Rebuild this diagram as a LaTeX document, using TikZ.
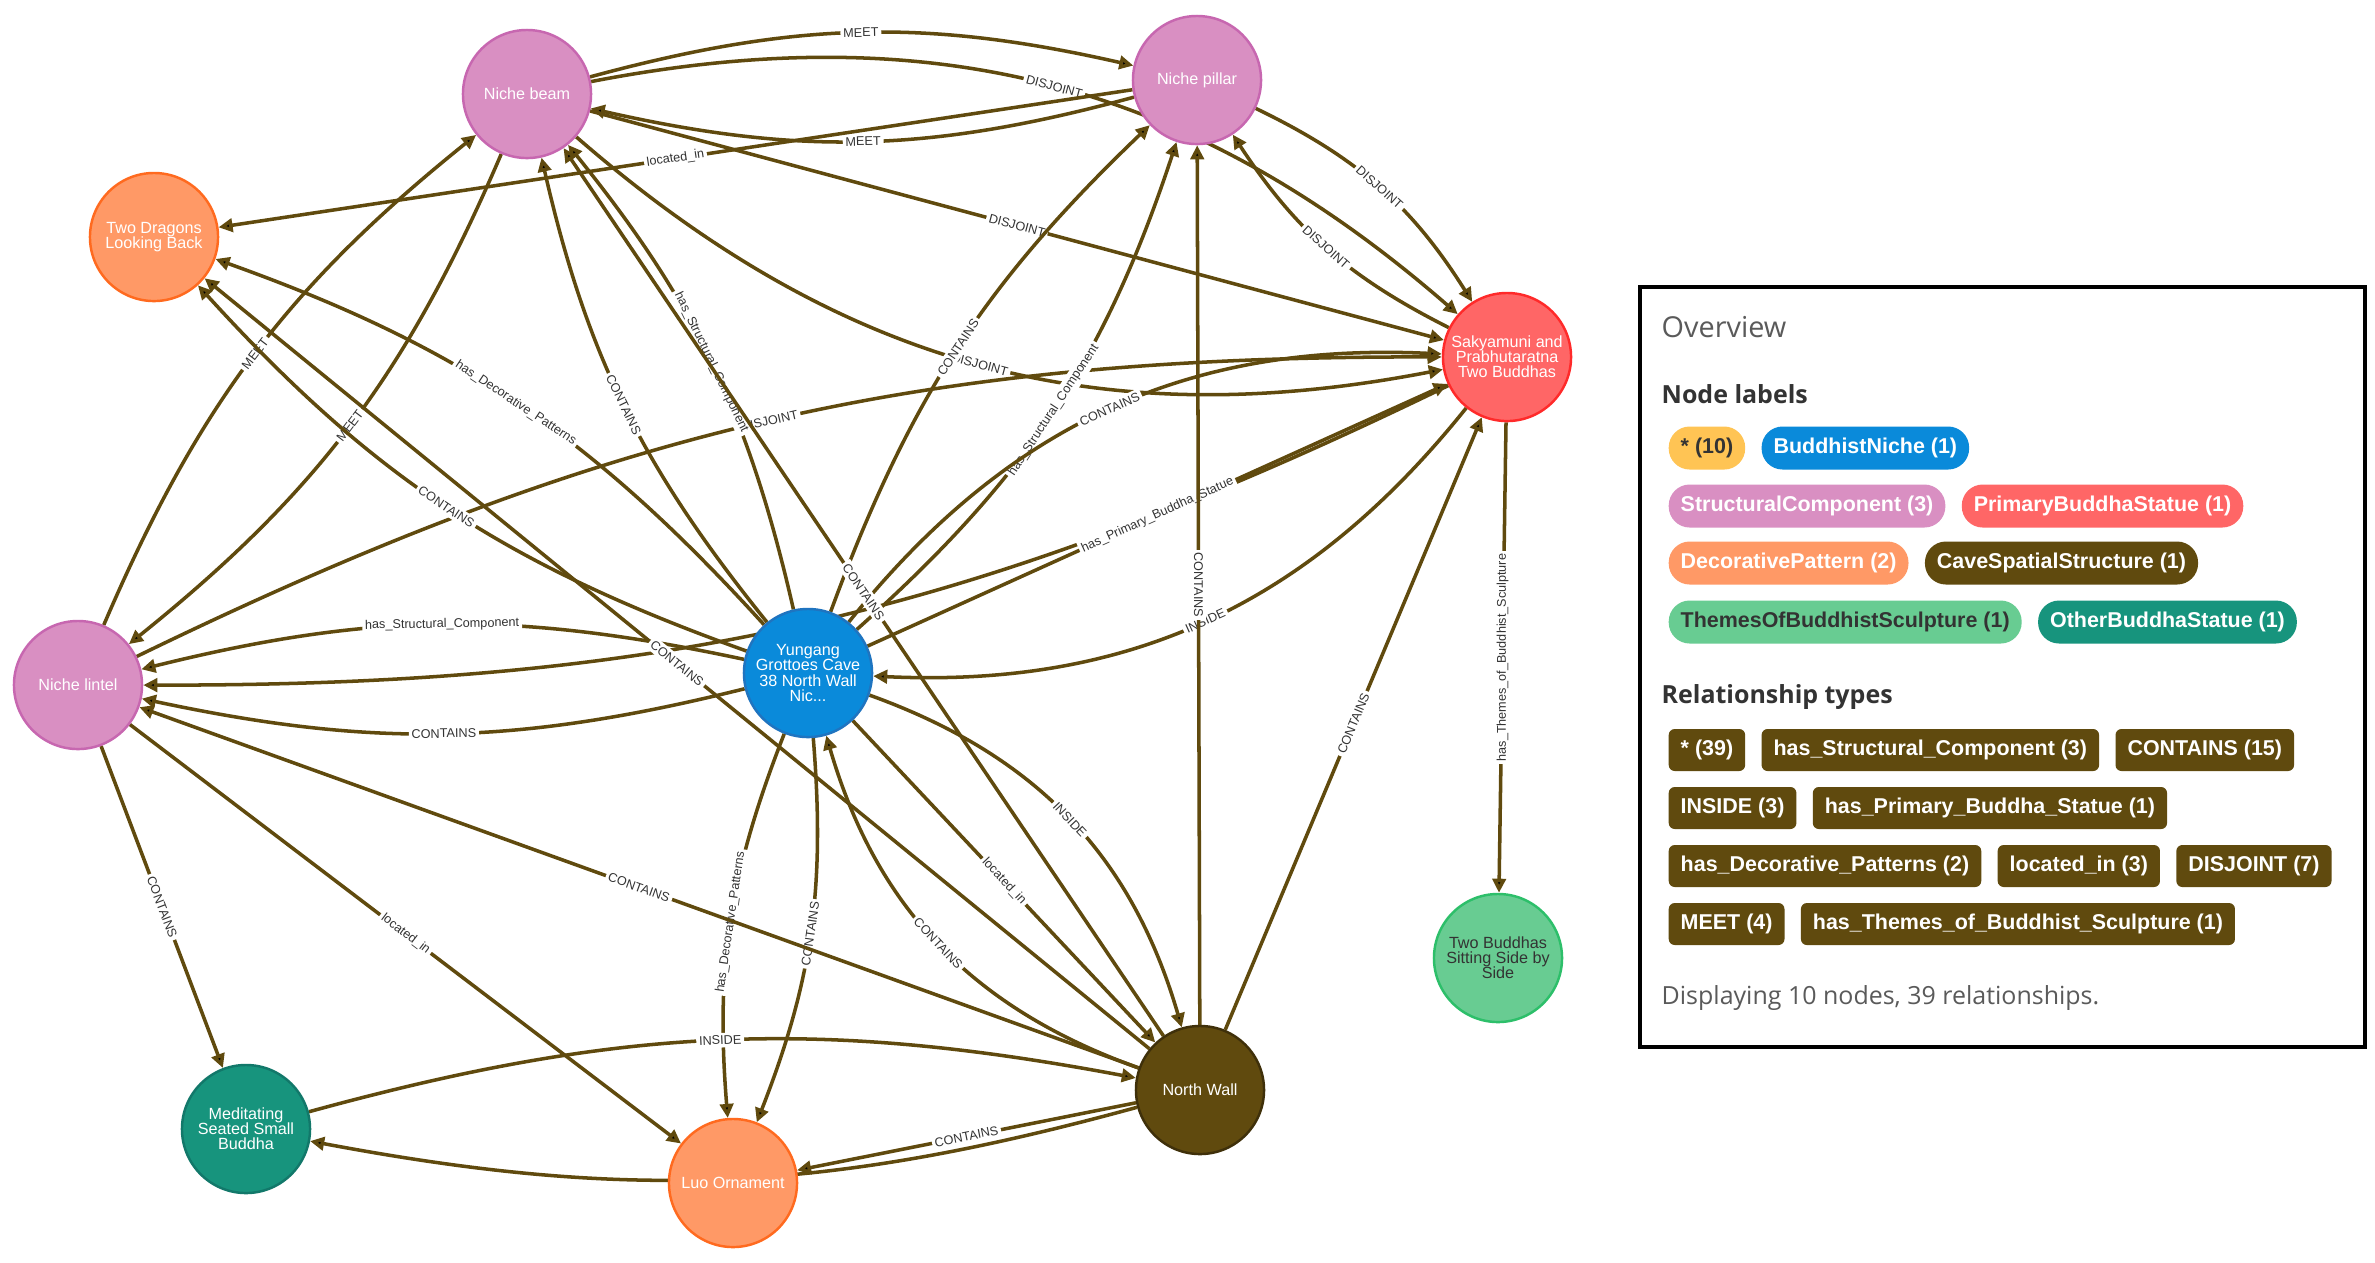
\documentclass[tikz,border=0pt]{standalone}
\usepackage{fontspec}
\setmainfont{Liberation Sans}
\newfontfamily\uifont{Open Sans}
\usetikzlibrary{arrows.meta,positioning}

\definecolor{relc}{HTML}{604A0E}
\definecolor{textc}{HTML}{333333}
\definecolor{greyc}{HTML}{5A5A5A}
\definecolor{cAll}{HTML}{FFC454}
\definecolor{cNiche}{HTML}{0A8ADA}
\definecolor{cNicheB}{HTML}{1F74C0}
\definecolor{cStruct}{HTML}{D98FC2}
\definecolor{cStructB}{HTML}{C767B0}
\definecolor{cPrimary}{HTML}{FF6666}
\definecolor{cPrimaryB}{HTML}{FF2A2A}
\definecolor{cDeco}{HTML}{FF9966}
\definecolor{cDecoB}{HTML}{FF6A1F}
\definecolor{cCave}{HTML}{604A0E}
\definecolor{cCaveB}{HTML}{3F300A}
\definecolor{cTheme}{HTML}{68CC92}
\definecolor{cThemeB}{HTML}{2DBF6A}
\definecolor{cOther}{HTML}{17947D}
\definecolor{cOtherB}{HTML}{12786A}

\pgfdeclarelayer{bg}
\pgfdeclarelayer{edges}
\pgfsetlayers{bg,edges,main}

\tikzset{
  gnode/.style={circle, draw, line width=0.7pt, minimum size=1.28cm, inner sep=0pt,
    align=center, text=white, font=\fontsize{4.6}{4.3}\selectfont},
  structural/.style={gnode, fill=cStruct, draw=cStructB},
  primary/.style={gnode, fill=cPrimary, draw=cPrimaryB},
  decorative/.style={gnode, fill=cDeco, draw=cDecoB},
  niche/.style={gnode, fill=cNiche, draw=cNicheB},
  cave/.style={gnode, fill=cCave, draw=cCaveB},
  themes/.style={gnode, fill=cTheme, draw=cThemeB, text=textc},
  other/.style={gnode, fill=cOther, draw=cOtherB},
  rel/.style={draw=relc, line width=1pt, -{Triangle[length=4pt,width=3.8pt]}},
  lblbase/.style={fill=white, inner sep=0.8pt, text=textc, font=\fontsize{3.6}{4}\selectfont},
  lbl/.style={lblbase, sloped},
  vlbl/.style={lblbase},
  lpill/.style={rounded corners=0.21cm, minimum height=0.43cm, inner xsep=0.12cm, inner ysep=0pt,
    text=white, font=\bfseries\fontsize{6.1}{7}\selectfont},
  rpill/.style={lpill, rounded corners=0.06cm, minimum height=0.42cm, fill=relc},
  heading/.style={anchor=west, inner sep=0pt, text=textc, font=\uifont\bfseries\fontsize{7.1}{8}\selectfont}
}

\begin{document}
\begin{tikzpicture}[x=0.01cm, y=-0.01cm]
  \useasboundingbox (0,0) rectangle (2375,1262);
  \begin{pgfonlayer}{bg}
    \fill[white] (0,0) rectangle (2375,1262);
  \end{pgfonlayer}

  % graph nodes
  \node[structural] (nb) at (527,94) {Niche beam};
  \node[structural] (np) at (1197,80) {Niche pillar};
  \node[decorative] (td) at (154,237) {Two Dragons\\Looking Back};
  \node[primary] (sk) at (1507,357) {Sakyamuni and\\Prabhutaratna\\Two Buddhas};
  \node[structural] (nl) at (78,685) {Niche lintel};
  \node[niche] (yg) at (808,673) {Yungang\\Grottoes Cave\\38 North Wall\\Nic...};
  \node[other] (ms) at (246,1129) {Meditating\\Seated Small\\Buddha};
  \node[decorative] (lo) at (733,1183) {Luo Ornament};
  \node[cave] (nw) at (1200,1090) {North Wall};
  \node[themes] (tb) at (1498,958) {Two Buddhas\\Sitting Side by\\Side};

  \begin{pgfonlayer}{edges}
    % beam, pillar, lintel, Sakyamuni
    \path[rel] (nb) edge[bend left=14] node[lbl] {MEET} (np);
    \path[rel] (np) edge[bend left=14] node[lbl] {MEET} (nb);
    \path[rel] (nb) edge[bend left=26] node[lbl] {DISJOINT} (sk);
    \path[rel] (nb) edge node[lbl] {DISJOINT} (sk);
    \path[rel] (nb) edge[bend right=26] node[lbl] {DISJOINT} (sk);
    \path[rel] (np) edge[bend left=16] node[lbl] {DISJOINT} (sk);
    \path[rel] (sk) edge[bend left=15] node[lbl] {DISJOINT} (np);
    \path[rel] (nl) edge[bend left=13] node[lbl] {DISJOINT} (sk);
    \path[rel] (sk) edge[bend left=13] (nl);
    \path[rel] (nl) edge[bend left=14] node[lbl] {MEET} (nb);
    \path[rel] (nb) edge[bend left=14] node[lbl] {MEET} (nl);
    \path[rel] (np) edge node[lbl] {located\_in} (td);

    % Yungang niche
    \path[rel] (yg) edge[bend right=13] node[lbl] {has\_Structural\_Component} (nb);
    \path[rel] (yg) edge[bend left=13] node[lbl] {CONTAINS} (nb);
    \path[rel] (yg) edge[bend right=15] node[lbl] {has\_Structural\_Component} (np);
    \path[rel] (yg) edge[bend left=13] node[lbl] {CONTAINS} (np);
    \path[rel] (yg) edge[bend right=13] node[lbl] {has\_Structural\_Component} (nl);
    \path[rel] (yg) edge[bend left=13] node[lbl] {CONTAINS} (nl);
    \path[rel] (yg) edge[bend right=14] node[lbl] {has\_Decorative\_Patterns} (td);
    \path[rel] (yg) edge[bend left=14] node[lbl] {CONTAINS} (td);
    \path[rel] (yg) edge[bend right=13] node[lbl] {has\_Decorative\_Patterns} (lo);
    \path[rel] (yg) edge[bend left=13] node[lbl] {CONTAINS} (lo);
    \path[rel] (yg) edge node[lbl] {has\_Primary\_Buddha\_Statue} (sk);
    \path[rel] (yg) edge[bend left=27] node[lbl] {CONTAINS} (sk);
    \path[rel] (sk) edge[bend left=27] node[lbl] {INSIDE} (yg);
    \path[rel] (yg) edge node[lbl] {located\_in} (nw);
    \path[rel] (yg) edge[bend left=27] node[lbl] {INSIDE} (nw);
    \path[rel] (nw) edge[bend left=27] node[lbl] {CONTAINS} (yg);

    % North Wall and the rest
    \path[rel] (nw) edge node[lbl] {CONTAINS} (nb);
    \path[rel] (nw) edge node[vlbl, rotate=-90] {CONTAINS} (np);
    \path[rel] (nw) edge node[lbl] {CONTAINS} (sk);
    \path[rel] (nw) edge node[lbl] {CONTAINS} (nl);
    \path[rel] (nw) edge node[lbl] {CONTAINS} (td);
    \path[rel] (nw) edge node[lbl] {CONTAINS} (lo);
    \path[rel] (nw) edge[bend left=13] (ms);
    \path[rel] (ms) edge[bend left=13] node[lbl] {INSIDE} (nw);
    \path[rel] (nl) edge node[lbl] {CONTAINS} (ms);
    \path[rel] (nl) edge node[lbl] {located\_in} (lo);
    \path[rel] (sk) edge node[vlbl, rotate=90] {has\_Themes\_of\_Buddhist\_Sculpture} (tb);
  \end{pgfonlayer}

  % overview panel
  \draw[line width=1.2pt] (1640,287) rectangle (2365,1047);
  \node[anchor=west, inner sep=0pt, text=greyc, font=\uifont\fontsize{8.2}{9}\selectfont] (ovw) at (1661,327) {Overview};
  \node[heading] (nlab) at (1661,394) {Node labels};

  \node[lpill, fill=cAll, text=textc, anchor=west] (pall) at (1668,448) {* (10)};
  \node[lpill, fill=cNiche, right=0.15cm of pall] (pniche) {BuddhistNiche (1)};
  \node[lpill, fill=cStruct, anchor=west] (pstruct) at (1668,506) {StructuralComponent (3)};
  \node[lpill, fill=cPrimary, right=0.15cm of pstruct] (pprim) {PrimaryBuddhaStatue (1)};
  \node[lpill, fill=cDeco, anchor=west] (pdeco) at (1668,563) {DecorativePattern (2)};
  \node[lpill, fill=cCave, right=0.15cm of pdeco] (pcave) {CaveSpatialStructure (1)};
  \node[lpill, fill=cTheme, text=textc, anchor=west] (ptheme) at (1668,622) {ThemesOfBuddhistSculpture (1)};
  \node[lpill, fill=cOther, right=0.15cm of ptheme] (pother) {OtherBuddhaStatue (1)};

  \node[heading] (rlab) at (1661,697) {Relationship types};

  \node[rpill, anchor=west] (rall) at (1668,750) {* (39)};
  \node[rpill, right=0.15cm of rall] (rstruct) {has\_Structural\_Component (3)};
  \node[rpill, right=0.15cm of rstruct] (rcont) {CONTAINS (15)};
  \node[rpill, anchor=west] (rinside) at (1668,808) {INSIDE (3)};
  \node[rpill, right=0.15cm of rinside] (rprim) {has\_Primary\_Buddha\_Statue (1)};
  \node[rpill, anchor=west] (rdeco) at (1668,866) {has\_Decorative\_Patterns (2)};
  \node[rpill, right=0.15cm of rdeco] (rloc) {located\_in (3)};
  \node[rpill, right=0.15cm of rloc] (rdis) {DISJOINT (7)};
  \node[rpill, anchor=west] (rmeet) at (1668,924) {MEET (4)};
  \node[rpill, right=0.15cm of rmeet] (rtheme) {has\_Themes\_of\_Buddhist\_Sculpture (1)};

  \node[anchor=west, inner sep=0pt, text=greyc, font=\uifont\fontsize{7.1}{8}\selectfont] (disp) at (1661,998) {Displaying 10 nodes, 39 relationships.};
\end{tikzpicture}
\end{document}
